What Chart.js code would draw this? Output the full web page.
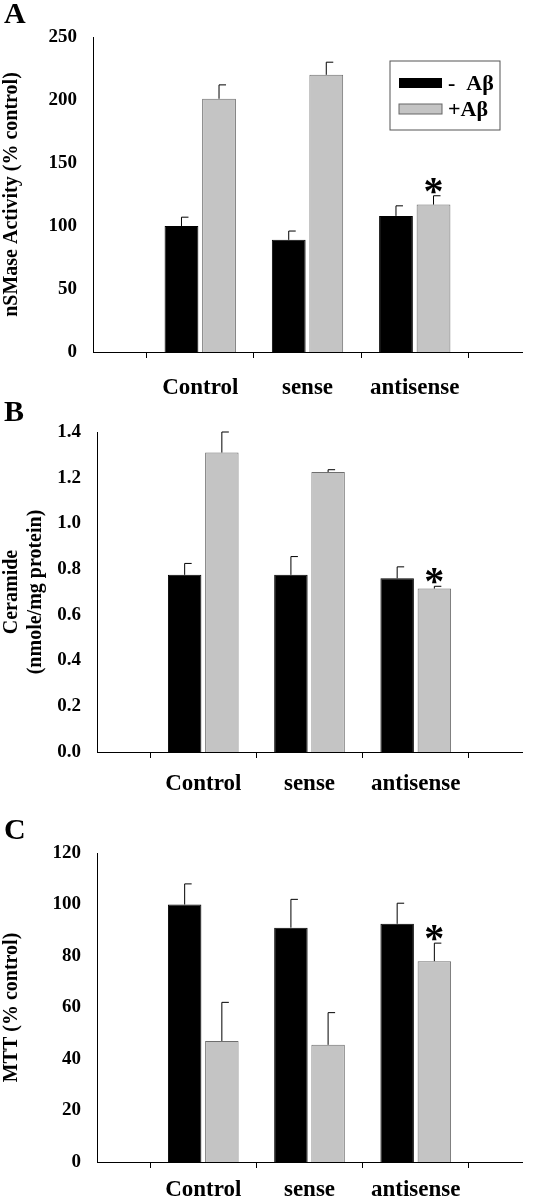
<!DOCTYPE html><html><head><meta charset="utf-8">
<script src="https://cdn.jsdelivr.net/npm/chart.js@4/dist/chart.umd.min.js"></script>
<style>body{margin:0;background:#fff;width:548px;height:1199px;position:relative;overflow:hidden}
.p{position:absolute;left:0;width:548px}.L{position:absolute;left:4px;font:bold 30px "Liberation Serif";}</style></head><body>
<div class="p" style="top:0;height:400px"><canvas id="cA"></canvas></div>
<div class="p" style="top:400px;height:400px"><canvas id="cB"></canvas></div>
<div class="p" style="top:800px;height:399px"><canvas id="cC"></canvas></div>
<div class="L" style="top:-4px">A</div><div class="L" style="top:394px">B</div><div class="L" style="top:812px">C</div>
<script>
const categories=['','Control','sense','antisense',''];
const seriesNames=['-  Aβ','+Aβ'];
const nsmaseMinus=[null,100,89,108,null], nsmaseMinusErr=[null,7,7,8,null];
const nsmasePlus=[null,201,220,117,null], nsmasePlusErr=[null,11,10,7,null];
const ceramideMinus=[null,0.775,0.775,0.76,null], ceramideMinusErr=[null,0.05,0.08,0.05,null];
const ceramidePlus=[null,1.31,1.225,0.715,null], ceramidePlusErr=[null,0.09,0.01,0.01,null];
const mttMinus=[null,100,91,92.5,null], mttMinusErr=[null,8,11,8,null];
const mttPlus=[null,47,45.5,78,null], mttPlusErr=[null,15,12.5,7,null];
const F='"Liberation Serif"';
const errPlugin={id:'err',afterDatasetsDraw(c,a,o){const ctx=c.ctx;ctx.save();ctx.strokeStyle='#000';ctx.lineWidth=1;
 c.data.datasets.forEach((ds,i)=>{const m=c.getDatasetMeta(i);ds.err.forEach((e,j)=>{if(e==null)return;const b=m.data[j];const y0=b.y,y1=c.scales.y.getPixelForValue(ds.data[j]+e);
 ctx.beginPath();ctx.moveTo(b.x,y0);ctx.lineTo(b.x,y1);ctx.moveTo(b.x,y1);ctx.lineTo(b.x+7,y1);ctx.stroke();
 if(i==1&&j==3){ctx.fillStyle='#000';ctx.font='bold 40px '+F;ctx.textAlign='center';ctx.fillText('*',b.x,y1+8);}});});
 if(o.legend){const x=390,y=61;ctx.strokeStyle='#555';ctx.strokeRect(x,y,110,69);
 ctx.fillStyle='#000';ctx.fillRect(x+9,y+17,43,10);ctx.fillStyle='#c4c4c4';ctx.fillRect(x+9,y+43,43,10);ctx.strokeStyle='#666';ctx.strokeRect(x+9,y+43,43,10);
 ctx.fillStyle='#000';ctx.font='bold 22px '+F;ctx.textAlign='left';ctx.textBaseline='middle';ctx.fillText(seriesNames[0],x+58,y+23);ctx.fillText(seriesNames[1],x+58,y+49);}
 ctx.restore();}};
function make(id,minus,mErr,plus,pErr,max,step,title,left,top,xh,pad,dec,legend){
 new Chart(document.getElementById(id),{type:'bar',plugins:[errPlugin],
 data:{labels:categories,datasets:[
  {data:minus,err:mErr,backgroundColor:'#000',borderColor:'#000',borderWidth:1},
  {data:plus,err:pErr,backgroundColor:'#c4c4c4',borderColor:'#6e6e6e',borderWidth:1}]},
 options:{responsive:true,maintainAspectRatio:false,animation:false,layout:{padding:{top:top,right:26,left:0,bottom:0}},
  datasets:{bar:{categoryPercentage:0.7,barPercentage:0.9}},
  plugins:{legend:{display:false},tooltip:{enabled:false},err:{legend:legend}},
  scales:{x:{offset:false,grid:{drawOnChartArea:false,tickLength:6,color:'#000'},border:{color:'#000'},
    ticks:{color:'#000',padding:pad,font:{family:F,weight:'bold',size:23},maxRotation:0,autoSkip:false},afterFit(s){s.height=xh;}},
   y:{min:0,max:max,grid:{display:false},border:{color:'#000'},
    ticks:{stepSize:step,color:'#000',padding:8,font:{family:F,weight:'bold',size:19},callback:v=>dec?v.toFixed(1):v},
    title:{display:true,text:title,color:'#000',font:{family:F,weight:'bold',size:20},padding:0},afterFit(s){s.width=left;}}}}});
}
make('cA',nsmaseMinus,nsmaseMinusErr,nsmasePlus,nsmasePlusErr,250,50,'nSMase Activity (% control)',93,37,48,16,false,true);
make('cB',ceramideMinus,ceramideMinusErr,ceramidePlus,ceramidePlusErr,1.4,0.2,['Ceramide','(nmole/mg protein)'],97,32,48,12,true,false);
make('cC',mttMinus,mttMinusErr,mttPlus,mttPlusErr,120,20,'MTT (% control)',97,53,37,8,false,false);
</script></body></html>
